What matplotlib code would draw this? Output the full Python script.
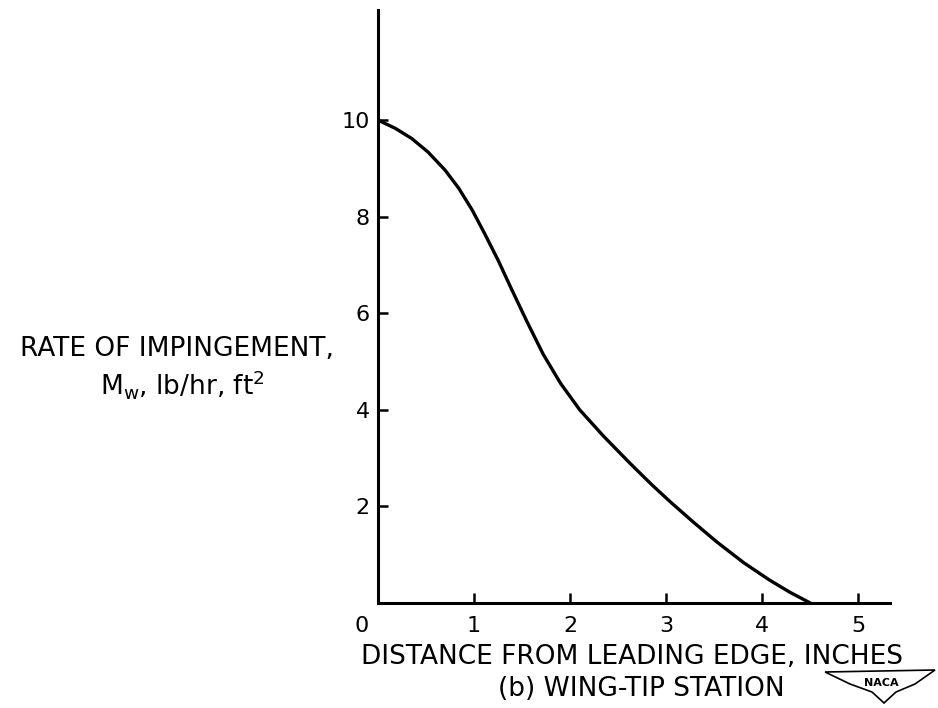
#!/usr/bin/env python3

import matplotlib
matplotlib.use("Agg")
import matplotlib.pyplot as plt
from matplotlib.patches import Polygon
from matplotlib.transforms import ScaledTranslation

# distance from leading edge (in) vs rate of impingement (lb/hr ft^2)
distance = [0.00, 0.18, 0.35, 0.52, 0.70, 0.84, 0.98, 1.11, 1.25, 1.39,
            1.55, 1.72, 1.90, 2.10, 2.35, 2.63, 2.85, 3.04, 3.28, 3.53,
            3.81, 4.08, 4.29, 4.50]
rate = [10.0, 9.83, 9.62, 9.34, 8.96, 8.59, 8.14, 7.65, 7.10, 6.50,
        5.83, 5.15, 4.55, 4.00, 3.45, 2.88, 2.45, 2.10, 1.68, 1.26,
        0.83, 0.47, 0.22, 0.0]

x_ticks = [0, 1, 2, 3, 4, 5]
y_ticks = [2, 4, 6, 8, 10]

W, H = 938, 708


def fx(px):
    return px / W


def fy(py):
    return 1 - py / H


plt.rcParams["font.family"] = "DejaVu Sans"

fig = plt.figure(figsize=(W / 100, H / 100), dpi=100)
ax = fig.add_axes([fx(378), fy(603), fx(890) - fx(378), fy(10) - fy(603)])

ax.plot(distance, rate, color="black", linewidth=2.4,
        solid_capstyle="round", solid_joinstyle="round")

ax.set_xlim(0, 5.33)
ax.set_ylim(0, 12.28)
for side in ["top", "right"]:
    ax.spines[side].set_visible(False)
for side in ["left", "bottom"]:
    ax.spines[side].set_linewidth(2.2)

ax.set_xticks(x_ticks)
ax.set_xticklabels([str(t) for t in x_ticks])
ax.set_yticks(y_ticks)
ax.set_yticklabels([str(t) for t in y_ticks])
ax.tick_params(direction="in", length=7, width=1.8, labelsize=16, pad=9)
ax.tick_params(axis="y", pad=6)

# shift the origin "0" a bit left, as in the original
lbl0 = ax.get_xticklabels()[0]
lbl0.set_transform(lbl0.get_transform() + ScaledTranslation(-16 / 100, 0, fig.dpi_scale_trans))

# axis titles placed as free text
fig.text(fx(632), fy(657), "DISTANCE FROM LEADING EDGE, INCHES",
         ha="center", va="center", fontsize=19)
fig.text(fx(641), fy(689), "(b) WING-TIP STATION",
         ha="center", va="center", fontsize=19)
fig.text(fx(177), fy(349), "RATE OF IMPINGEMENT,",
         ha="center", va="center", fontsize=19)
fig.text(fx(182), fy(385), r"M$_{\mathregular{w}}$, lb/hr, ft$^{\mathregular{2}}$",
         ha="center", va="center", fontsize=19)

# NACA emblem
emblem = [(825, 672), (935, 670), (915, 684), (896, 692), (884, 703),
          (872, 692), (850, 684)]
fig.patches.append(Polygon([(fx(a), fy(b)) for a, b in emblem], closed=True,
                           transform=fig.transFigure, facecolor="white",
                           edgecolor="black", linewidth=1.2))
fig.text(fx(881), fy(683), "NACA", ha="center", va="center",
         fontsize=8, fontweight="bold")

plt.savefig("out.png", dpi=100)
